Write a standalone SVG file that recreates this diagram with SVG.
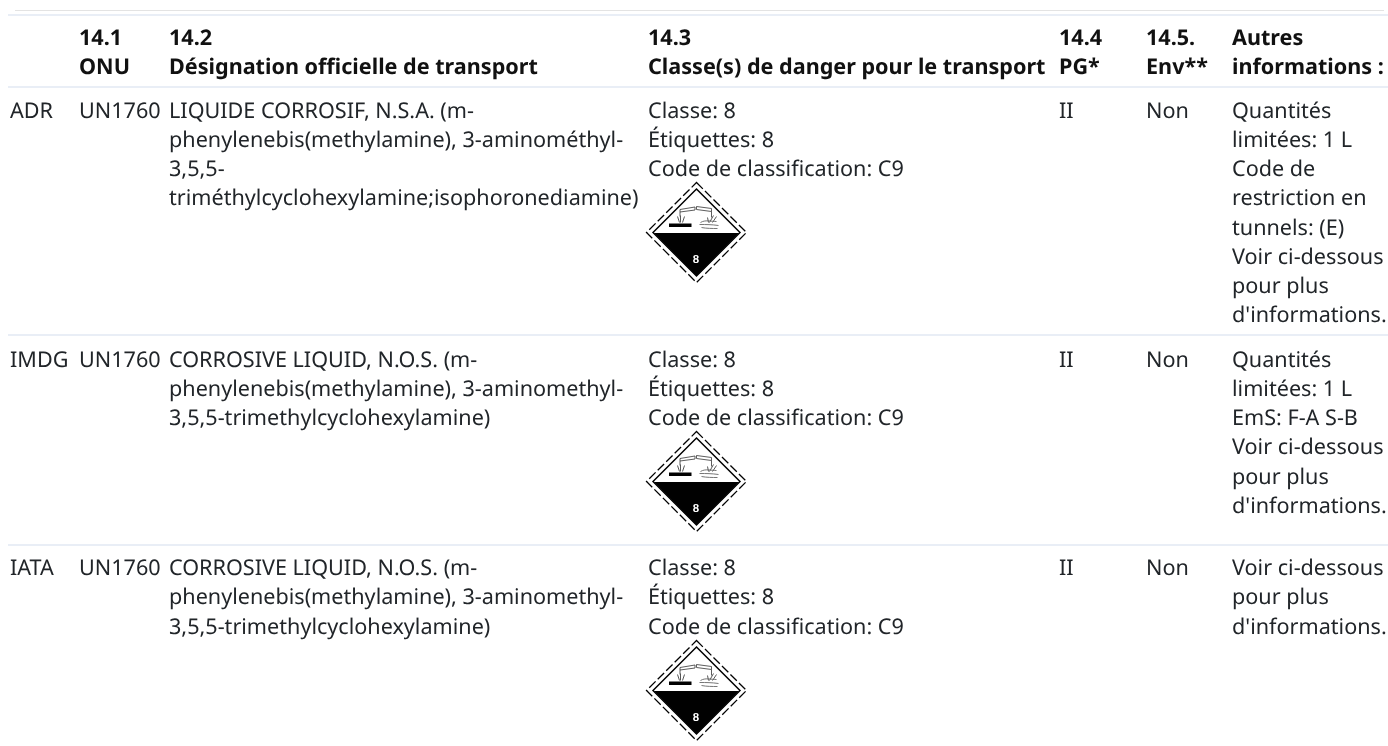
<svg xmlns="http://www.w3.org/2000/svg" xmlns:xlink="http://www.w3.org/1999/xlink" width="1388" height="746" viewBox="0 0 1388 746">
<style>
text{font-family:"Noto Sans",sans-serif;font-size:21.6px;fill:#212529;text-rendering:geometricPrecision}
.b{font-weight:700;fill:#111}
.rule{stroke:#e9eef6;stroke-width:2;fill:none}
.t{opacity:.999}
</style>
<defs>
<g id="label">
<path d="M0,-50L50,0L0,50L-50,0Z" fill="none" stroke="#000" stroke-width="1.300" stroke-dasharray="9 3"/>
<path d="M0,-43.500L43.500,0L0,43.500L-43.500,0Z" fill="#fff" stroke="#000" stroke-width="1.500"/>
<path d="M-42.500,0.500L42.500,0.500L0,43.500Z" fill="#000"/>
<text x="-0.500" y="30.500" text-anchor="middle" style="font-family:'Liberation Sans',sans-serif;font-size:11.500px;font-weight:700;fill:#fff">8</text>
<path d="M-27.500,-9H-5V-5.500H-27.500Z" fill="#000"/>
<path d="M-16.500,-23L-1.500,-25.500V-22.500L-16.500,-20.500ZM-16.500,-20.500V-16M0,-26L15,-24V-21L0,-23ZM15,-21V-15" fill="none" stroke="#333" stroke-width=".8"/>
<path d="M-19,-16L-17,-10M-16,-17L-16,-10M-12,-16L-14,-10M17,-17L13,-10M20,-16L16,-10M11,-15L12,-10" fill="none" stroke="#444" stroke-width=".9"/>
<path d="M4,-10C9,-13 14,-11 20,-11M3,-8C10,-8 15,-8 22,-7M5,-5C10,-4 16,-4 21,-4" fill="none" stroke="#666" stroke-width=".9"/>
</g>
</defs>
<path d="M15 10.500H1384" fill="none" stroke="#e3e3e3" stroke-width="1"/>
<g id="rules">
<path class="rule" d="M8 15H1388M8 87H1388M8 335H1388M8 545H1388"/>
</g>
<g class="t">
<g id="header">
<text class="b" x="79" y="45">14.1</text><text class="b" x="79" y="74">ONU</text>
<text class="b" x="169" y="45">14.2</text><text class="b" x="169" y="74">Désignation officielle de transport</text>
<text class="b" x="648" y="45">14.3</text><text class="b" x="648" y="74">Classe(s) de danger pour le transport</text>
<text class="b" x="1059" y="45">14.4</text><text class="b" x="1059" y="74">PG*</text>
<text class="b" x="1146" y="45">14.5.</text><text class="b" x="1146" y="74">Env**</text>
<text class="b" x="1232" y="45">Autres</text><text class="b" x="1232" y="74">informations :</text>
</g>
<g id="row-adr">
<text x="10" y="118">ADR</text><text x="79" y="118">UN1760</text>
<text x="169" y="118">LIQUIDE CORROSIF, N.S.A. (m-</text>
<text x="169" y="147">phenylenebis(methylamine), 3-aminométhyl-</text>
<text x="169" y="176">3,5,5-</text>
<text x="169" y="205">triméthylcyclohexylamine;isophoronediamine)</text>
<text x="648" y="118">Classe: 8</text><text x="648" y="147">Étiquettes: 8</text><text x="648" y="176">Code de classification: C9</text>
<use xlink:href="#label" x="696.500" y="232.500"/>
<text x="1059" y="118">II</text><text x="1146" y="118">Non</text>
<text x="1232" y="118">Quantités</text><text x="1232" y="147">limitées: 1 L</text><text x="1232" y="176">Code de</text><text x="1232" y="205">restriction en</text><text x="1232" y="235">tunnels: (E)</text><text x="1232" y="264">Voir ci-dessous</text><text x="1232" y="293">pour plus</text><text x="1232" y="322">d'informations.</text>
</g>
<g id="row-imdg">
<text x="10" y="367">IMDG</text><text x="79" y="367">UN1760</text>
<text x="169" y="367">CORROSIVE LIQUID, N.O.S. (m-</text>
<text x="169" y="396">phenylenebis(methylamine), 3-aminomethyl-</text>
<text x="169" y="425">3,5,5-trimethylcyclohexylamine)</text>
<text x="648" y="367">Classe: 8</text><text x="648" y="396">Étiquettes: 8</text><text x="648" y="425">Code de classification: C9</text>
<use xlink:href="#label" x="696.500" y="481.500"/>
<text x="1059" y="367">II</text><text x="1146" y="367">Non</text>
<text x="1232" y="367">Quantités</text><text x="1232" y="396">limitées: 1 L</text><text x="1232" y="425">EmS: F-A S-B</text><text x="1232" y="454">Voir ci-dessous</text><text x="1232" y="484">pour plus</text><text x="1232" y="513">d'informations.</text>
</g>
<g id="row-iata">
<text x="10" y="575">IATA</text><text x="79" y="575">UN1760</text>
<text x="169" y="575">CORROSIVE LIQUID, N.O.S. (m-</text>
<text x="169" y="604">phenylenebis(methylamine), 3-aminomethyl-</text>
<text x="169" y="634">3,5,5-trimethylcyclohexylamine)</text>
<text x="648" y="575">Classe: 8</text><text x="648" y="604">Étiquettes: 8</text><text x="648" y="634">Code de classification: C9</text>
<use xlink:href="#label" x="696.500" y="690.500"/>
<text x="1059" y="575">II</text><text x="1146" y="575">Non</text>
<text x="1232" y="575">Voir ci-dessous</text><text x="1232" y="604">pour plus</text><text x="1232" y="634">d'informations.</text>
</g>
</g>
</svg>
